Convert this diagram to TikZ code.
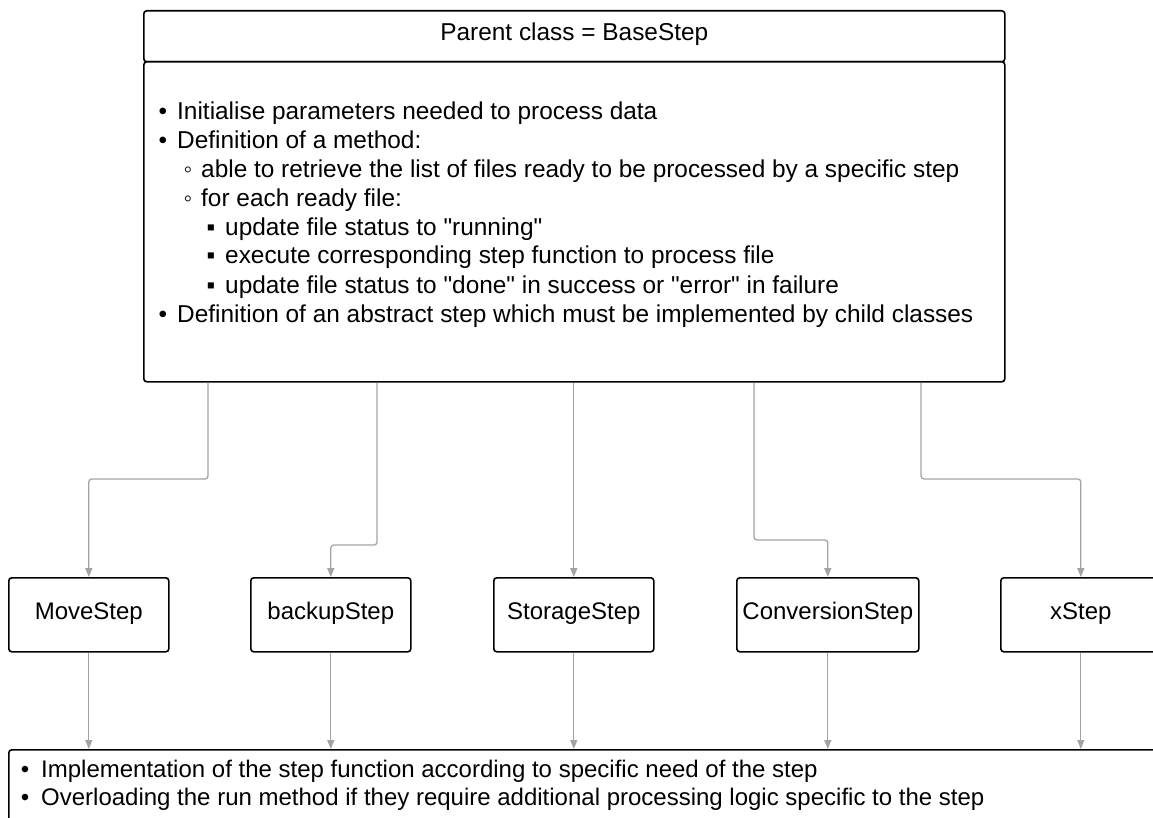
\documentclass[tikz,border=0pt]{standalone}
\usepackage{fontspec}
\setmainfont{Liberation Sans}
\newfontfamily\lsans{Liberation Sans}
\usetikzlibrary{arrows.meta,calc}
\begin{document}
\begin{tikzpicture}[x=1pt,y=-1pt,
  box/.style={draw=black, line width=1.6pt, rounded corners=3pt, fill=white, inner sep=0pt},
  conn/.style={draw=black!36, line width=1.3pt, rounded corners=3pt, -{Triangle[length=9pt,width=7pt]}},
  txt/.style={anchor=base west, inner sep=0pt, font=\lsans\fontsize{24.4}{28}\selectfont},
  bul/.style={anchor=base, inner sep=0pt, font=\lsans\fontsize{24.4}{28}\selectfont},
  btxt/.style={anchor=base west, inner sep=0pt, font=\lsans\fontsize{24}{28}\selectfont},
  bbul/.style={anchor=base, inner sep=0pt, font=\lsans\fontsize{24}{28}\selectfont},
  lbl/.style={font=\lsans\fontsize{24}{28}\selectfont, text height=16pt, text depth=7pt},
  hlbl/.style={font=\lsans\fontsize{24.4}{28}\selectfont, text height=16pt, text depth=7pt, inner sep=0pt}]
\useasboundingbox (0,0) rectangle (1153,818);
\clip (0,0) rectangle (1153,818);
% parent
\node[box, anchor=north west, minimum width=861pt, minimum height=51pt] (head) at (143,10) {};
\node[hlbl] (headtxt) at (head.center) {Parent class = BaseStep};
\node[box, anchor=north west, minimum width=861pt, minimum height=320pt] (body) at (143,61) {};
% body text
\node[bul] (b1) at (163,120) {•};
\node[txt] (t1) at (177,120) {Initialise parameters needed to process data};
\node[bul] (b2) at (163,149) {•};
\node[txt] (t2) at (177,149) {Definition of a method:};
\node[bul] (b3) at (188,178) {◦};
\node[txt] (t3) at (201,178) {able to retrieve the list of files ready to be processed by a specific step};
\node[bul] (b4) at (188,207) {◦};
\node[txt] (t4) at (201,207) {for each ready file:};
\node[bul] (b5) at (211,236) {▪};
\node[txt] (t5) at (225,236) {update file status to "running"};
\node[bul] (b6) at (211,264) {▪};
\node[txt] (t6) at (225,264) {execute corresponding step function to process file};
\node[bul] (b7) at (211,293) {▪};
\node[txt] (t7) at (225,293) {update file status to "done" in success or "error" in failure};
\node[bul] (b8) at (163,322) {•};
\node[txt] (t8) at (177,322) {Definition of an abstract step which must be implemented by child classes};
% children
\node[box, lbl, anchor=north west, minimum width=160pt, minimum height=74pt] (move) at (8,577) {MoveStep};
\node[box, lbl, anchor=north west, minimum width=160pt, minimum height=74pt] (backup) at (250,577) {backupStep};
\node[box, lbl, anchor=north west, minimum width=160pt, minimum height=74pt] (storage) at (493,577) {StorageStep};
\node[box, lbl, anchor=north west, minimum width=182pt, minimum height=74pt] (conv) at (736,577) {ConversionStep};
\node[box, lbl, anchor=north west, minimum width=160pt, minimum height=74pt] (xstep) at (1000,577) {xStep};
% bottom
\node[box, anchor=north west, minimum width=1200pt, minimum height=150pt] (bottom) at (8,749) {};
\node[bbul] (c1) at (25,777) {•};
\node[btxt] (d1) at (41,777) {Implementation of the step function according to specific need of the step};
\node[bbul] (c2) at (25,805) {•};
\node[btxt] (d2) at (41,805) {Overloading the run method if they require additional processing logic specific to the step};
% connectors parent -> children
\draw[conn] ($(body.south west)+(65,0)$) |- ($(move.north)+(0,-98)$) -- (move.north);
\draw[conn] ($(body.south west)+(234,0)$) |- ($(backup.north)+(0,-32)$) -- (backup.north);
\draw[conn] (body.south -| storage.north) -- (storage.north);
\draw[conn] ($(body.south west)+(611,0)$) |- ($(conv.north)+(0,-37)$) -- (conv.north);
\draw[conn] ($(body.south west)+(778,0)$) |- ($(xstep.north)+(0,-98)$) -- (xstep.north);
% connectors children -> bottom
\draw[conn] (move.south) -- (move.south |- bottom.north);
\draw[conn] (backup.south) -- (backup.south |- bottom.north);
\draw[conn] (storage.south) -- (storage.south |- bottom.north);
\draw[conn] (conv.south) -- (conv.south |- bottom.north);
\draw[conn] (xstep.south) -- (xstep.south |- bottom.north);
\end{tikzpicture}
\end{document}
